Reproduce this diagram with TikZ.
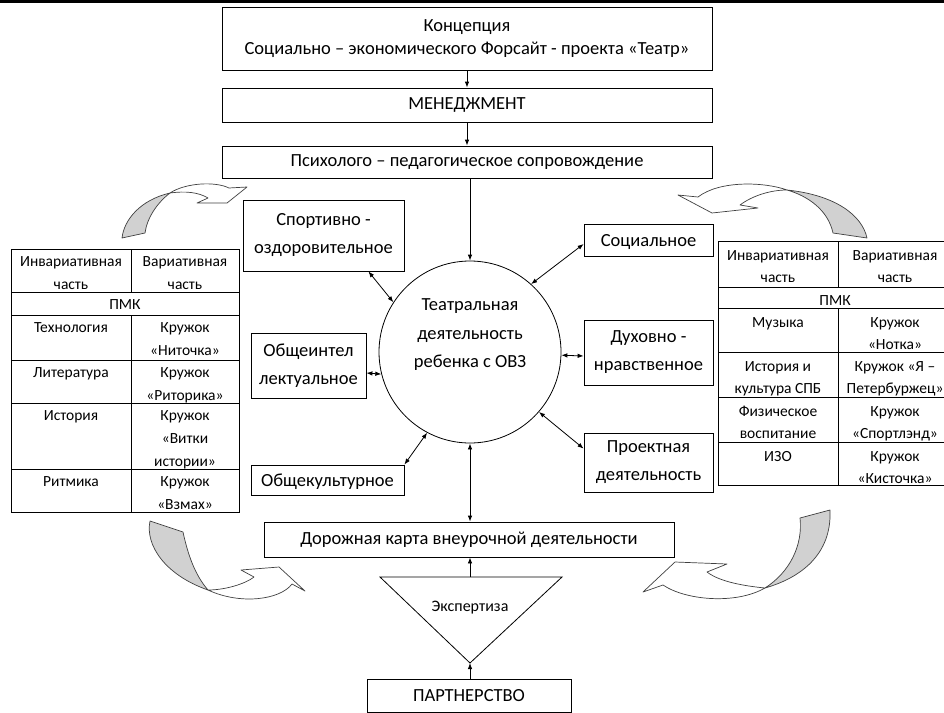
\documentclass[tikz,border=0pt]{standalone}
\usepackage{fontspec}
\setmainfont{Carlito}
\usetikzlibrary{positioning,arrows.meta}

\begin{document}
\begin{tikzpicture}
        [
            x=1pt, y=-1pt,
            line width=0.8pt,
            box/.style={draw, align=center, inner sep=0pt, font=\fontsize{18.5}{23}\selectfont},
            side/.style={draw, align=center, inner sep=0pt, font=\fontsize{18.5}{28}\selectfont},
            cell/.style={anchor=north, align=center, inner sep=0pt, font=\fontsize{15.5}{23}\selectfont},
            rcell/.style={cell, font=\fontsize{15.5}{21.5}\selectfont},
            arr/.style={-{Latex[length=6pt,width=4.5pt]}},
            dbl/.style={{Latex[length=6pt,width=4.5pt]}-{Latex[length=6pt,width=4.5pt]}},
            turnarrow/.style={draw=black!75, line width=0.7pt, fill=white, line join=round},
            turngray/.style={turnarrow, fill=black!18},
        ]
        \clip (0,0) rectangle (944,712);
        \draw[line width=3pt] (0,1.5) -- (944,1.5);

        % top of the scheme
        \node[box, minimum width=490, minimum height=63] (konc) at (467,38.5)
            {Концепция\\Социально – экономического Форсайт - проекта «Театр»};
        \node[box, minimum width=490, minimum height=34] (men) at (467,105) {МЕНЕДЖМЕНТ};
        \node[box, minimum width=490, minimum height=32] (psy) at (467,162)
            {Психолого – педагогическое сопровождение};

        % centre
        \node[draw, circle, minimum size=182, inner sep=0pt,
            label={[yshift=17pt, align=center, font=\fontsize{18.5}{28.5}\selectfont]center:{Театральная\\деятельность\\ребенка с ОВЗ}}]
            (teatr) at (470,352) {};

        \node[side, minimum width=161, minimum height=71] (sport) at (323.5,235.5) {Спортивно -\\оздоровительное};
        \node[side, minimum width=115, minimum height=65] (intel) at (308.5,365.5) {Общеинтел\\лектуальное};
        \node[side, minimum width=153, minimum height=30, text depth=0pt] (kult) at (327.5,480) {Общекультурное};
        \node[side, minimum width=129, minimum height=32, text depth=0pt] (soc) at (648.5,240) {Социальное};
        \node[side, minimum width=129, minimum height=65] (duh) at (648.5,352.5) {Духовно -\\нравственное};
        \node[side, minimum width=129, minimum height=59] (proj) at (648.5,462.5) {Проектная\\деятельность};

        % bottom
        \node[box, minimum width=410, minimum height=35] (road) at (469,539.5) {Дорожная карта внеурочной деятельности};
        \coordinate (trl) at (380,577);
        \coordinate (trr) at (562,577);
        \coordinate (apex) at (470,663);
        \coordinate (trtop) at (470,577);
        \draw (trl) -- (trr) -- (apex) -- cycle;
        \node[font=\fontsize{16}{19}\selectfont] (expert) at (470,608) {Экспертиза};
        \node[box, minimum width=204, minimum height=33] (partner) at (469,695.5) {ПАРТНЕРСТВО};

        \draw[arr] (konc) -- (men);
        \draw[arr] (men) -- (psy);
        \draw[arr] (psy.south -| teatr) -- (teatr);
        \draw[dbl] (teatr) -- (teatr |- road.north);
        \draw[arr] (trtop) -- (trtop |- road.south);
        \draw[arr] (partner.north -| apex) -- (apex);

        \draw[dbl] ([xshift=-36pt]sport.south east) -- (teatr.147);
        \draw[dbl] ([yshift=-4pt]soc.west) -- (teatr.48);
        \draw[dbl] ([yshift=-7.5pt]intel.east) -- (teatr.194);
        \draw[dbl] ([yshift=-3.5pt]duh.west) -- (teatr.-2.5);
        \draw[dbl] (kult.north east) -- (teatr.242);
        \draw[dbl] ([yshift=-16pt]proj.north west) -- (teatr.-41);

        % left table
        \draw (11,249) rectangle (239,512);
        \foreach \y in {292,315,360,403,469} \draw (11,\y) -- (239,\y);
        \draw (131,249) -- (131,292) (131,315) -- (131,512);
        \node[cell] (lpmk) at (125,292.5) {\strut ПМК};
        \foreach \y/\a/\b [count=\i] in {249/{Инвариативная\\часть}/{Вариативная\\часть},
            315/Технология/{Кружок\\«Ниточка»}, 360/Литература/{Кружок\\«Риторика»},
            403/История/{Кружок\\«Витки\\истории»}, 469/Ритмика/{Кружок\\«Взмах»}}
        {
            \node[cell] (la\i) at (71,\y+1) {\strut\a};
            \node[cell] (lb\i) at (185,\y+1) {\strut\b};
        }

        % right table
        \draw (718,241) rectangle (952,485);
        \foreach \y in {287,308,352,397,442} \draw (718,\y) -- (952,\y);
        \draw (838,241) -- (838,287) (838,308) -- (838,485);
        \node[rcell] (rpmk) at (835,290) {\strut ПМК};
        \foreach \y/\a/\b [count=\i] in {241/{Инвариативная\\часть}/{Вариативная\\часть},
            308/Музыка/{Кружок\\«Нотка»}, 352/{История и\\культура СПБ}/{Кружок «Я –\\Петербуржец»},
            397/{Физическое\\воспитание}/{Кружок\\«Спортлэнд»}, 442/ИЗО/{Кружок\\«Кисточка»}}
        {
            \node[rcell] (ra\i) at (778,\y+4.5) {\strut\a};
            \node[rcell] (rb\i) at (895,\y+4.5) {\strut\b};
        }

        % curved arrows
        \draw[turngray] (122,238) .. controls (124,220) and (140,200) .. (170,193)
            .. controls (157,203) and (147,218) .. (145,233) -- cycle;
        \draw[turnarrow] (170,193) .. controls (185,183) and (215,181) .. (229,188) -- (247,187)
            -- (227,203) -- (197,203) -- (208,198) .. controls (198,192) and (185,191) .. (170,193) -- cycle;

        \draw[turngray] (787,190) .. controls (808,196) and (828,210) .. (833,233) -- (867,238)
            .. controls (862,215) and (835,195) .. (787,190) -- cycle;
        \draw[turnarrow] (787,190) .. controls (765,182) and (720,180) .. (698,197) -- (678,195)
            -- (712,213) -- (758,208) -- (740,205) .. controls (752,196) and (770,190) .. (787,190) -- cycle;

        \draw[turngray] (150,521) .. controls (145,545) and (165,575) .. (208,590)
            .. controls (195,575) and (188,555) .. (183,532) -- cycle;
        \draw[turnarrow] (208,590) .. controls (225,590) and (245,584) .. (254,577) -- (241,570)
            -- (279,567) -- (305,591) -- (292,584) .. controls (280,600) and (240,605) .. (208,590) -- cycle;

        \draw[turngray] (800,518) .. controls (803,545) and (790,572) .. (765,588)
            .. controls (800,578) and (832,555) .. (830,510) -- cycle;
        \draw[turnarrow] (765,588) .. controls (745,586) and (720,582) .. (707,572) -- (727,564)
            -- (675,562) -- (643,592) -- (663,585) .. controls (685,600) and (735,605) .. (765,588) -- cycle;
\end{tikzpicture}
\end{document}
